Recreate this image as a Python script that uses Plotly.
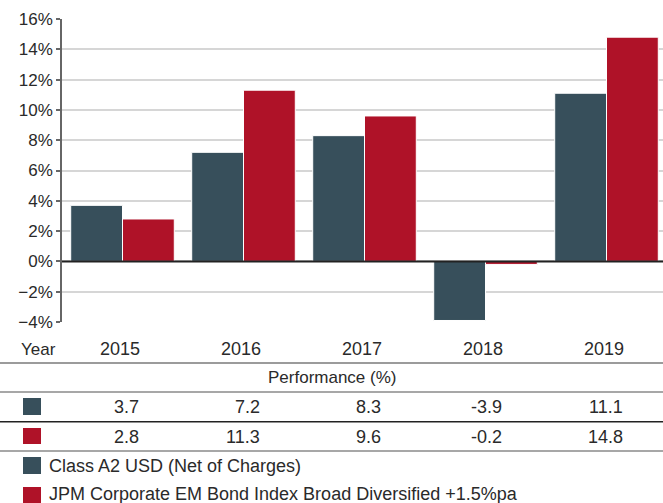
import plotly.graph_objects as go

years = ["2015", "2016", "2017", "2018", "2019"]
fund = [3.7, 7.2, 8.3, -3.9, 11.1]
index_vals = [2.8, 11.3, 9.6, -0.2, 14.8]
fund_name = "Class A2 USD (Net of Charges)"
index_name = "JPM Corporate EM Bond Index Broad Diversified +1.5%pa"
table_title = "Performance (%)"
year_label = "Year"

DARK = "#374F5B"
RED = "#AF1228"
TXT = "#2a2a2a"
FONT = "Liberation Sans, Arial, sans-serif"

W, H = 663, 503
ML, MR, MT, MB = 62, 0, 19, 181
PH = H - MT - MB
PW = W - ML - MR


def py(p):
    return (H - MB - p) / PH


def px(p):
    return (p - ML) / PW


fig = go.Figure()
fig.add_bar(x=years, y=fund, name=fund_name, marker=dict(color=DARK, line=dict(color="white", width=1)))
fig.add_bar(x=years, y=index_vals, name=index_name, marker=dict(color=RED, line=dict(color="white", width=1)))

shapes = []
annotations = []

# zero line above bars
shapes.append(dict(type="line", xref="paper", yref="y", x0=0, x1=1, y0=0, y1=0, layer="above",
                   line=dict(color="#222222", width=2)))

# table lines
for yy, col in [(363, "#7a7a7a"), (392, "#8a8a8a"), (421.7, "#222222"), (451, "#8a8a8a")]:
    shapes.append(dict(type="line", xref="paper", yref="paper", x0=px(0), x1=px(W), y0=py(yy), y1=py(yy),
                       line=dict(color=col, width=1.5)))

# year header
annotations.append(dict(text=year_label, xref="paper", yref="paper", x=px(19), y=py(349), xanchor="left",
                        yanchor="middle", showarrow=False, font=dict(size=17, color=TXT, family=FONT)))
annotations.append(dict(text=table_title, xref="paper", yref="paper", x=px(W / 2), y=py(377.7), xanchor="center",
                        yanchor="middle", showarrow=False, font=dict(size=17, color=TXT, family=FONT)))

OFF = 19
for i, yr in enumerate(years):
    annotations.append(dict(text=yr, xref="x", yref="paper", x=i, xshift=OFF, y=py(349), xanchor="right",
                            yanchor="middle", showarrow=False, font=dict(size=18, color=TXT, family=FONT)))
    annotations.append(dict(text=f"{fund[i]:.1f}", xref="x", yref="paper", x=i, xshift=OFF - 1, y=py(406.7),
                            xanchor="right", yanchor="middle", showarrow=False,
                            font=dict(size=18, color=TXT, family=FONT)))
    annotations.append(dict(text=f"{index_vals[i]:.1f}", xref="x", yref="paper", x=i, xshift=OFF - 1, y=py(436.7),
                            xanchor="right", yanchor="middle", showarrow=False,
                            font=dict(size=18, color=TXT, family=FONT)))

# squares
for (y0, y1), col in [((398, 415), DARK), ((428, 444), RED), ((457, 474), DARK), ((487, 504), RED)]:
    shapes.append(dict(type="rect", xref="paper", yref="paper", x0=px(23), x1=px(41), y0=py(y1), y1=py(y0),
                       fillcolor=col, line=dict(width=0)))

annotations.append(dict(text=fund_name, xref="paper", yref="paper", x=px(47), y=py(465.5), xanchor="left",
                        yanchor="middle", showarrow=False, font=dict(size=18, color=TXT, family=FONT)))
annotations.append(dict(text=index_name, xref="paper", yref="paper", x=px(47), y=py(494), xanchor="left",
                        yanchor="middle", showarrow=False, font=dict(size=18, color=TXT, family=FONT)))

fig.update_layout(
    width=W, height=H,
    margin=dict(l=ML, r=MR, t=MT, b=MB, pad=0),
    paper_bgcolor="white", plot_bgcolor="white",
    barmode="group", bargap=0.144, bargroupgap=0,
    showlegend=False,
    shapes=shapes, annotations=annotations,
    font=dict(family=FONT, color=TXT),
)
fig.update_xaxes(type="category", range=[-0.5, -0.5 + PW / 121.0], showticklabels=False, showline=False,
                 ticks="", showgrid=False, zeroline=False)
fig.update_yaxes(range=[-4, 16], dtick=2, ticksuffix="%", showline=True, linecolor="#666666", linewidth=1.5,
                 ticks="outside", ticklen=4, tickcolor="#666666", tickwidth=1.5,
                 showgrid=True, gridcolor="#d6d6d6", gridwidth=1.5,
                 zeroline=False,
                 tickfont=dict(size=17, color=TXT, family=FONT))

fig.write_html("out.html", config={"displayModeBar": False})
